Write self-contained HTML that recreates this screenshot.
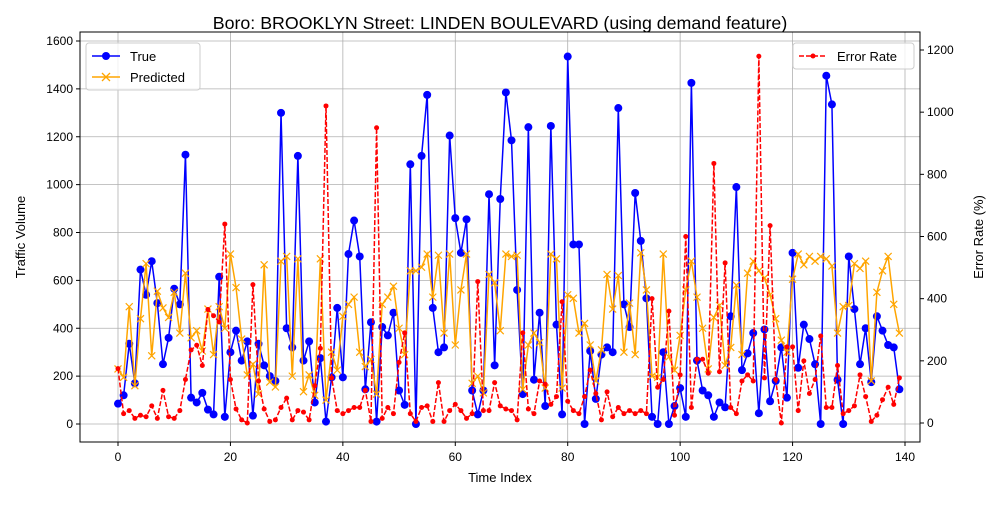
<!DOCTYPE html>
<html><head><meta charset="utf-8"><style>
body{margin:0;background:#fff}
svg{font-family:"Liberation Sans","DejaVu Sans",sans-serif}
</style></head><body>
<svg id="chart" width="1000" height="500" viewBox="0 0 1000 500" xmlns="http://www.w3.org/2000/svg">
<rect width="1000" height="500" fill="#fff"/>
<text x="500" y="29" font-size="17.8" text-anchor="middle">Boro: BROOKLYN Street: LINDEN BOULEVARD (using demand feature)</text>
<g id="grid"></g>
<g id="axes"></g>
<g id="series"></g>
<rect x="80" y="32" width="840" height="410" fill="none" stroke="#000" stroke-width="1"/>
<text x="500" y="482" font-size="13" text-anchor="middle">Time Index</text>
<text x="25" y="237" font-size="13" text-anchor="middle" transform="rotate(-90 25 237)">Traffic Volume</text>
<text x="983" y="237" font-size="13" text-anchor="middle" transform="rotate(-90 983 237)">Error Rate (%)</text>
<g>
<rect x="86" y="43" width="114" height="47" rx="3" fill="#fff" fill-opacity="0.8" stroke="#ccc"/>
<g><line x1="92" y1="56" x2="120" y2="56" stroke="#0000ff" stroke-width="1.5"/><circle cx="106" cy="56" r="4" fill="#0000ff"/><text x="130" y="61" font-size="13">True</text></g>
<g><line x1="92" y1="77" x2="120" y2="77" stroke="#ffa500" stroke-width="1.5"/><path d="M102,73 l8,8 M110,73 l-8,8" stroke="#ffa500" stroke-width="1.3"/><text x="130" y="82" font-size="13">Predicted</text></g>
</g>
<g>
<rect x="793" y="43" width="121" height="26" rx="3" fill="#fff" fill-opacity="0.8" stroke="#ccc"/>
<g><line x1="799" y1="56" x2="827" y2="56" stroke="#ff0000" stroke-width="1.5" stroke-dasharray="5,2"/><circle cx="813" cy="56" r="2.5" fill="#ff0000"/><text x="837" y="61" font-size="13">Error Rate</text></g>
</g>
</svg>
<script>
const xTicks=[0,20,40,60,80,100,120,140];
const yTicks=[0,200,400,600,800,1000,1200,1400,1600];
const y2Ticks=[0,200,400,600,800,1000,1200];
const trueVals=[85,120,335,170,645,540,680,505,250,360,565,500,1125,110,90,130,60,40,615,30,300,390,265,345,35,335,245,200,180,1300,400,320,1120,265,345,90,275,10,195,485,195,710,850,700,145,425,10,405,370,465,140,80,1085,0,1120,1375,485,300,320,1205,860,715,855,140,40,140,960,245,940,1385,1185,560,125,1240,185,465,75,1245,415,40,1535,750,750,0,305,105,290,320,300,1320,500,405,965,765,525,30,0,300,0,75,150,30,1425,265,140,120,30,90,70,450,990,225,295,380,45,395,95,180,320,110,715,235,415,355,250,0,1455,1335,185,0,700,480,250,400,175,450,390,330,320,145];
const predVals=[230,195,490,160,440,670,285,555,485,445,550,380,630,360,390,305,480,290,490,400,710,570,355,205,250,125,665,175,155,680,700,200,690,135,205,120,690,100,300,225,450,500,530,300,240,270,125,500,530,575,400,290,640,640,655,710,530,705,380,710,330,560,710,170,200,130,625,590,390,710,700,705,145,330,380,340,150,710,690,150,540,525,380,420,330,180,310,625,480,620,300,505,290,715,560,200,195,710,280,225,370,560,680,530,400,230,445,495,245,320,580,290,630,680,640,610,540,440,350,300,605,710,665,700,680,700,690,660,380,490,495,670,650,680,180,550,640,700,500,380];
const errVals=[175,30,40,15,25,20,55,15,105,20,15,40,140,235,250,185,365,345,325,640,140,45,10,0,445,135,45,5,10,50,80,10,40,35,10,120,240,1020,145,40,30,40,50,50,105,5,950,15,50,30,195,290,30,5,50,55,5,130,5,40,60,40,15,30,455,40,40,130,55,45,40,10,290,45,30,135,125,60,85,390,70,40,30,85,170,95,10,100,20,50,30,40,30,40,30,400,115,140,360,25,155,600,50,205,205,160,835,165,515,50,30,135,155,135,1180,145,635,140,0,245,245,40,200,95,140,280,50,50,185,30,40,55,155,85,5,25,75,115,60,145];
const NS="http://www.w3.org/2000/svg";
const X=i=>118+i*(787/140);
const Y=v=>424-v*(383/1600);
const Y2=v=>423-v*(373/1200);
function mk(t,a,p){const e=document.createElementNS(NS,t);for(const k in a)e.setAttribute(k,a[k]);p.appendChild(e);return e;}
const grid=document.getElementById('grid'),axes=document.getElementById('axes'),ser=document.getElementById('series');
xTicks.forEach(t=>{const x=X(t);
 const g=mk('line',{x1:x,x2:x,y1:32,y2:442,stroke:'#b0b0b0','stroke-width':0.8},grid);
 
 
 mk('line',{x1:x,x2:x,y1:442,y2:446,stroke:'#000'},axes);
 const l=mk('text',{x:x,y:461,'font-size':12,'text-anchor':'middle'},axes);l.textContent=t;
 
 });
yTicks.forEach(t=>{const y=Y(t);
 const g=mk('line',{x1:80,x2:920,y1:y,y2:y,stroke:'#b0b0b0','stroke-width':0.8},grid);
 
 
 mk('line',{x1:76,x2:80,y1:y,y2:y,stroke:'#000'},axes);
 const l=mk('text',{x:73,y:y+4,'font-size':12,'text-anchor':'end'},axes);l.textContent=t;
 
 });
y2Ticks.forEach(t=>{const y=Y2(t);
 mk('line',{x1:920,x2:924,y1:y,y2:y,stroke:'#000'},axes);
 const l=mk('text',{x:927,y:y+4,'font-size':12,'text-anchor':'start'},axes);l.textContent=t;
 
 });
function line(vals,fy,color,dash){const p=mk('polyline',{points:vals.map((v,i)=>X(i)+','+fy(v)).join(' '),fill:'none',stroke:color,'stroke-width':1.5},ser);if(dash)p.setAttribute('stroke-dasharray','5,2');return p;}
const lt=line(trueVals,Y,'#0000ff');


trueVals.forEach((v,i)=>{const c=mk('circle',{cx:X(i),cy:Y(v),r:4,fill:'#0000ff'},ser);
 
 });
const lp=line(predVals,Y,'#ffa500');


predVals.forEach((v,i)=>{const x=X(i),y=Y(v);const m=mk('path',{d:`M${x-3.5},${y-3.5}l7,7M${x+3.5},${y-3.5}l-7,7`,stroke:'#ffa500','stroke-width':1.2},ser);
 
 });
const le=line(errVals,Y2,'#ff0000',true);


errVals.forEach((v,i)=>{const c=mk('circle',{cx:X(i),cy:Y2(v),r:2.5,fill:'#ff0000'},ser);
 
 });
</script>
</body></html>
